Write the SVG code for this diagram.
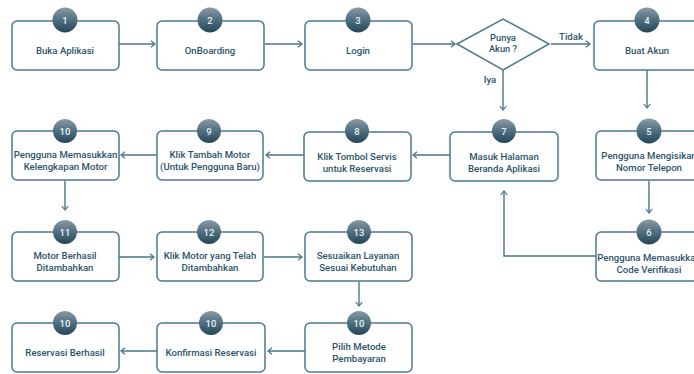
<svg xmlns="http://www.w3.org/2000/svg" width="694" height="374" viewBox="0 0 694 374">
<defs>
<linearGradient id="bg" x1="0" y1="0" x2="0" y2="1">
<stop offset="0" stop-color="#8a9ba5"/>
<stop offset="0.45" stop-color="#557383"/>
<stop offset="1" stop-color="#22475a"/>
</linearGradient>
<marker id="ar" markerWidth="8" markerHeight="8" refX="5.5" refY="4" orient="auto" markerUnits="userSpaceOnUse">
<path d="M1.5,0.8 L5.5,4 L1.5,7.2" fill="none" stroke="#4a7487" stroke-width="1.2"/>
</marker>
<style>
.box{fill:#fff;stroke:#4a7a90;stroke-width:1.5}
.bd{fill:url(#bg)}
.n{font-family:Roboto,"Liberation Sans",sans-serif;font-size:9.5px;font-weight:500;fill:#e8eef1;text-anchor:middle}
.t{font-family:Roboto,"Liberation Sans",sans-serif;font-size:9.6px;font-weight:500;fill:#2c5469;text-anchor:middle}
.c{fill:none;stroke:#4a7487;stroke-width:1.4;marker-end:url(#ar)}
</style>
</defs>
<rect width="694" height="374" fill="#fff"/>
<g id="connectors">
<path class="c" d="M119,44 L155,44"/>
<path class="c" d="M265,44 L302,44"/>
<path class="c" d="M413,44 L455,44"/>
<path class="c" d="M551,44 L590,44"/>
<path class="c" d="M503,70 L503,110"/>
<path class="c" d="M647,70 L647,108"/>
<path class="c" d="M649,181 L649,213"/>
<path class="c" d="M596,256 L504,256 L504,191"/>
<path class="c" d="M450,155 L413,155"/>
<path class="c" d="M304,155 L266,155"/>
<path class="c" d="M157,155 L121,155"/>
<path class="c" d="M65,181 L65,210"/>
<path class="c" d="M119,257 L154,257"/>
<path class="c" d="M264,257 L302,257"/>
<path class="c" d="M359,282 L359,306"/>
<path class="c" d="M305,351 L268,351"/>
<path class="c" d="M157,351 L121,351"/>
<text class="t" x="571" y="40">Tidak</text>
<text class="t" x="490" y="83">Iya</text>
</g>
<g id="n1"><rect class="box" x="12" y="21" width="107" height="49" rx="5"/><circle class="bd" cx="65" cy="20" r="12.5"/><text class="n" x="65" y="23.5">1</text><text class="t" x="65" y="54">Buka Aplikasi</text></g>
<g id="n2"><rect class="box" x="157" y="21" width="107" height="49" rx="5"/><circle class="bd" cx="210" cy="20" r="12.5"/><text class="n" x="210" y="23.5">2</text><text class="t" x="210" y="54">OnBoarding</text></g>
<g id="n3"><rect class="box" x="305" y="21" width="107" height="49" rx="5"/><circle class="bd" cx="358" cy="20" r="12.5"/><text class="n" x="358" y="23.5">3</text><text class="t" x="358" y="54">Login</text></g>
<g id="dec"><polygon points="457,44 503,19 549,44 503,70" fill="#fff" stroke="#4a7a90" stroke-width="1.5"/><text class="t" x="503" y="41" style="font-size:9.3px">Punya</text><text class="t" x="503" y="51.5" style="font-size:9.3px">Akun ?</text></g>
<g id="n4"><rect class="box" x="594" y="21" width="107" height="49" rx="5"/><circle class="bd" cx="647" cy="20" r="12.5"/><text class="n" x="647" y="23.5">4</text><text class="t" x="647" y="54">Buat Akun</text></g>
<g id="n5"><rect class="box" x="596" y="131" width="107" height="49" rx="5"/><circle class="bd" cx="649" cy="131" r="12.5"/><text class="n" x="649" y="134.5">5</text><text class="t" x="649" y="159">Pengguna Mengisikan</text><text class="t" x="649" y="171">Nomor Telepon</text></g>
<g id="n6"><rect class="box" x="596" y="232" width="107" height="49" rx="5"/><circle class="bd" cx="649" cy="232" r="12.5"/><text class="n" x="649" y="235.5">6</text><text class="t" x="649" y="261">Pengguna Memasukkan</text><text class="t" x="649" y="273">Code Verifikasi</text></g>
<g id="n7"><rect class="box" x="450" y="132" width="108" height="49" rx="5"/><circle class="bd" cx="504" cy="131" r="12"/><text class="n" x="504" y="134.5">7</text><text class="t" x="504" y="160">Masuk Halaman</text><text class="t" x="504" y="172">Beranda Aplikasi</text></g>
<g id="n8"><rect class="box" x="304" y="132" width="107" height="49" rx="5"/><circle class="bd" cx="357" cy="131" r="12"/><text class="n" x="357" y="134.5">8</text><text class="t" x="357" y="160">Klik Tombol Servis</text><text class="t" x="357" y="172">untuk Reservasi</text></g>
<g id="n9"><rect class="box" x="157" y="131" width="106" height="49" rx="5"/><circle class="bd" cx="209" cy="131" r="12"/><text class="n" x="209" y="134.5">9</text><text class="t" x="210" y="158">Klik Tambah Motor</text><text class="t" x="210" y="170">(Untuk Pengguna Baru)</text></g>
<g id="n10a"><rect class="box" x="12" y="131" width="107" height="49" rx="5"/><circle class="bd" cx="65" cy="131" r="12"/><text class="n" x="65" y="134.5">10</text><text class="t" x="65.5" y="158">Pengguna Memasukkan</text><text class="t" x="65.5" y="170">Kelengkapan Motor</text></g>
<g id="n11"><rect class="box" x="12" y="232" width="107" height="49" rx="5"/><circle class="bd" cx="65" cy="232" r="12"/><text class="n" x="65" y="235.5">11</text><text class="t" x="65" y="259">Motor Berhasil</text><text class="t" x="65" y="271">Ditambahkan</text></g>
<g id="n12"><rect class="box" x="157" y="232" width="106" height="49" rx="5"/><circle class="bd" cx="209" cy="232" r="12"/><text class="n" x="209" y="235.5">12</text><text class="t" x="210" y="259">Klik Motor yang Telah</text><text class="t" x="210" y="271">Ditambahkan</text></g>
<g id="n13"><rect class="box" x="305" y="232" width="107" height="49" rx="5"/><circle class="bd" cx="359" cy="232" r="12"/><text class="n" x="359" y="235.5">13</text><text class="t" x="358" y="259">Sesuaikan Layanan</text><text class="t" x="358" y="271">Sesuai Kebutuhan</text></g>
<g id="n10b"><rect class="box" x="305" y="323" width="107" height="49" rx="5"/><circle class="bd" cx="359" cy="323" r="12"/><text class="n" x="359" y="326.5">10</text><text class="t" x="359" y="350">Pilih Metode</text><text class="t" x="359" y="362">Pembayaran</text></g>
<g id="n10c"><rect class="box" x="157" y="323" width="108" height="49" rx="5"/><circle class="bd" cx="211" cy="323" r="12"/><text class="n" x="211" y="326.5">10</text><text class="t" x="211" y="356">Konfirmasi Reservasi</text></g>
<g id="n10d"><rect class="box" x="12" y="323" width="107" height="49" rx="5"/><circle class="bd" cx="65" cy="323" r="12"/><text class="n" x="65" y="326.5">10</text><text class="t" x="65" y="356">Reservasi Berhasil</text></g>
</svg>
